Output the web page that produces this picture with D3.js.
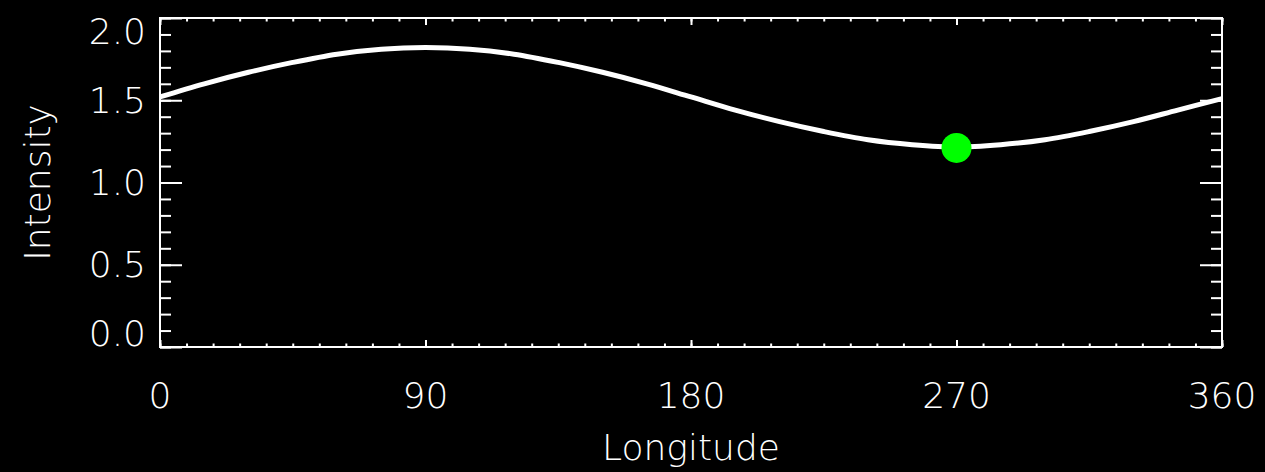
<!DOCTYPE html>
<html>
<head>
<meta charset="utf-8">
<script src="https://cdn.jsdelivr.net/npm/d3@7"></script>
<style>
  html, body { margin: 0; padding: 0; background: #000; }
  text { font-family: "DejaVu Sans", sans-serif; font-weight: 200; fill: #fff; }
</style>
</head>
<body>
<div id="chart"></div>
<script>
// Chart values
const longitudes = [0, 15, 30, 45, 60, 75, 90, 105, 120, 135, 150, 165, 180,
                    195, 210, 225, 240, 255, 270, 285, 300, 315, 330, 345, 360];
const intensity = [1.52, 1.60, 1.67, 1.73, 1.78, 1.81, 1.82, 1.81, 1.78, 1.73, 1.67, 1.60, 1.52,
                   1.44, 1.37, 1.31, 1.26, 1.23, 1.215, 1.23, 1.26, 1.31, 1.37, 1.44, 1.51];
const marker = { lon: 270, value: 1.21 };

const xMajor = [0, 90, 180, 270, 360];
const xMinor = d3.range(0, 361, 9);
const yMajor = [0, 0.5, 1.0, 1.5, 2.0];
const yMinor = d3.range(0, 21).map(d => d / 10);

// Sizes
const width = 1265;
const height = 472;
const plotL = 160, plotR = 1222, plotT = 18, plotB = 347;

const svg = d3.select("#chart")
    .append("svg")
    .attr("width", width)
    .attr("height", height)
    .style("background-color", "#000");

const x = d3.scaleLinear().domain([0, 360]).range([plotL, plotR]);
const y = d3.scaleLinear().domain([0, 2]).range([plotB, plotT]);

// Inward ticks on all four sides
function drawTicks(axisFn, scale, values, size, transform) {
    svg.append("g")
        .attr("transform", transform)
        .call(axisFn(scale).tickValues(values).tickSize(size).tickFormat(""))
        .call(g => g.select(".domain").remove())
        .call(g => g.selectAll("line").attr("stroke", "#fff").attr("stroke-width", 2));
}

drawTicks(d3.axisTop, x, xMinor, 3.5, `translate(0,${plotB})`);
drawTicks(d3.axisTop, x, xMajor, 7, `translate(0,${plotB})`);
drawTicks(d3.axisBottom, x, xMinor, 3.5, `translate(0,${plotT})`);
drawTicks(d3.axisBottom, x, xMajor, 7, `translate(0,${plotT})`);
drawTicks(d3.axisRight, y, yMinor, 11, `translate(${plotL},0)`);
drawTicks(d3.axisRight, y, yMajor, 22, `translate(${plotL},0)`);
drawTicks(d3.axisLeft, y, yMinor, 11, `translate(${plotR},0)`);
drawTicks(d3.axisLeft, y, yMajor, 22, `translate(${plotR},0)`);

// Frame
svg.append("rect")
    .attr("x", plotL)
    .attr("y", plotT)
    .attr("width", plotR - plotL)
    .attr("height", plotB - plotT)
    .attr("fill", "none")
    .attr("stroke", "#fff")
    .attr("stroke-width", 2);

// Tick labels
const fontSize = 36;
const labelH = 27;

svg.selectAll(".xlab")
    .data(xMajor)
    .enter()
    .append("text")
    .attr("x", d => x(d))
    .attr("y", 395)
    .attr("text-anchor", "middle")
    .attr("dominant-baseline", "central")
    .style("font-size", fontSize + "px")
    .text(d => d);

svg.selectAll(".ylab")
    .data(yMajor)
    .enter()
    .append("text")
    .attr("x", 146)
    .attr("y", d => Math.min(plotB - labelH / 2, Math.max(plotT + labelH / 2, y(d))))
    .attr("text-anchor", "end")
    .attr("dominant-baseline", "central")
    .style("font-size", fontSize + "px")
    .text(d => d3.format(".1f")(d));

// Axis titles
svg.append("text")
    .attr("x", (plotL + plotR) / 2)
    .attr("y", 460)
    .attr("text-anchor", "middle")
    .style("font-size", fontSize + "px")
    .text("Longitude");

svg.append("text")
    .attr("transform", `translate(50,${(plotT + plotB) / 2}) rotate(-90)`)
    .attr("text-anchor", "middle")
    .style("font-size", fontSize + "px")
    .text("Intensity");

// Curve
const line = d3.line()
    .x((d, i) => x(longitudes[i]))
    .y(d => y(d))
    .curve(d3.curveCatmullRom);

svg.append("path")
    .datum(intensity)
    .attr("d", line)
    .attr("fill", "none")
    .attr("stroke", "#fff")
    .attr("stroke-width", 5);

// Marker
svg.append("circle")
    .attr("cx", x(marker.lon))
    .attr("cy", y(marker.value))
    .attr("r", 15)
    .attr("fill", "#00ff00");
</script>
</body>
</html>
